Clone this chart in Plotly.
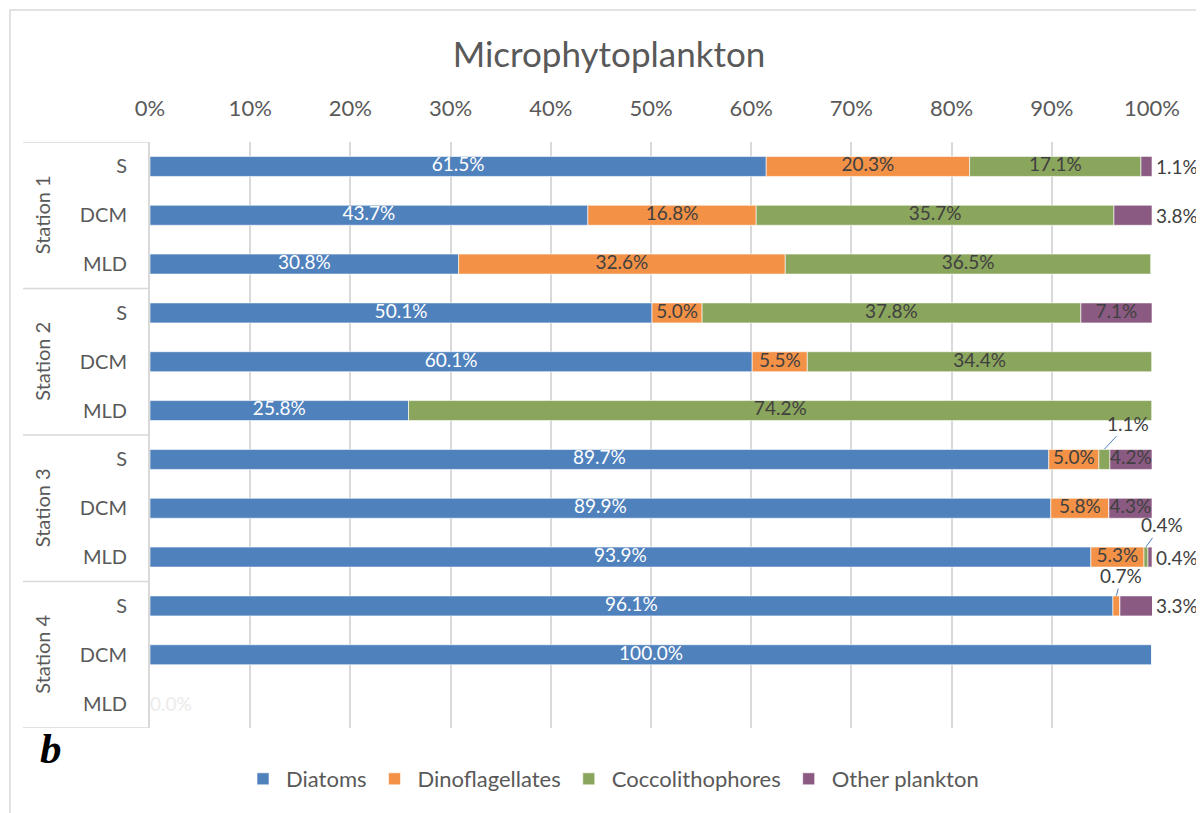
import plotly.graph_objects as go

# categories
stations = ["Station 1", "Station 2", "Station 3", "Station 4"]
depths = ["S", "DCM", "MLD"]

# composition (%) per row: Station 1 S, DCM, MLD, Station 2 S, ...
diatoms = [61.5, 43.7, 30.8, 50.1, 60.1, 25.8, 89.7, 89.9, 93.9, 96.1, 100.0, 0.0]
dinoflagellates = [20.3, 16.8, 32.6, 5.0, 5.5, 0.0, 5.0, 5.8, 5.3, 0.7, 0.0, 0.0]
coccolithophores = [17.1, 35.7, 36.5, 37.8, 34.4, 74.2, 1.1, 0.0, 0.4, 0.0, 0.0, 0.0]
other_plankton = [1.1, 3.8, 0.0, 7.1, 0.0, 0.0, 4.2, 4.3, 0.4, 3.3, 0.0, 0.0]

series_names = ["Diatoms", "Dinoflagellates", "Coccolithophores", "Other plankton"]
series_vals = [diatoms, dinoflagellates, coccolithophores, other_plankton]
colors = ["#4F81BD", "#F39247", "#8AA55C", "#8B5A82"]
label_colors = ["white", "#404040", "#404040", "#404040"]

# labels that Excel moved out of the bar: (row, series) -> where
outside = {(0, 3): "right", (1, 3): "right", (6, 2): "above", (8, 2): "above",
           (8, 3): "right", (9, 1): "above", (9, 3): "right"}
above_offsets = {(6, 2): (24, -26), (8, 2): (16, -22), (9, 1): (5, -20)}

FONT = "Lato"
# the page body has an 8px margin, so the figure is drawn 8px smaller and
# everything below is measured in figure pixels (page pixels minus 8)
W, H = 1196, 805
PL, PR, PT, PB = 142, 1144, 134, 720   # plot area in figure pixels
PW, PH = PR - PL, PB - PT


def px(x):
    return (x - PL) / PW


def py(y):
    return (PB - y) / PH


n_rows = len(stations) * len(depths)
ypos = list(range(n_rows))
ticktext = [depths[i % len(depths)] for i in ypos]

fig = go.Figure()
base = [0.0] * n_rows
annotations = []
for s, (name, vals) in enumerate(zip(series_names, series_vals)):
    fig.add_trace(go.Bar(
        y=ypos, x=vals, base=base, orientation="h", name=name,
        marker=dict(color=colors[s], line=dict(color="rgba(255,255,255,0.6)", width=1)),
        width=0.41, hoverinfo="x+name",
    ))
    mids, texts = [], []
    for r, v in enumerate(vals):
        mid = base[r] + v / 2
        txt = f"{v:.1f}%"
        place = outside.get((r, s))
        mids.append(mid)
        texts.append("" if (v == 0 or place is not None) else txt)
        if place == "right":
            annotations.append(dict(x=100, y=r, xref="x", yref="y", text=txt, showarrow=False,
                                    xanchor="left", xshift=2,
                                    font=dict(family=FONT, size=19, color="#404040")))
        elif place == "above":
            ax, ay = above_offsets[(r, s)]
            annotations.append(dict(x=mid, y=r - 0.21, xref="x", yref="y", text=txt, showarrow=True,
                                    arrowhead=0, arrowwidth=1, arrowcolor="#4F81BD", ax=ax, ay=ay,
                                    font=dict(family=FONT, size=19, color="#404040")))
    fig.add_trace(go.Scatter(
        x=mids, y=ypos, text=texts, mode="text", showlegend=False, hoverinfo="skip",
        textfont=dict(family=FONT, size=19, color=label_colors[s]),
    ))
    base = [b + v for b, v in zip(base, vals)]

# the empty Station 4 MLD row shows a faint 0.0% label
annotations.append(dict(x=0, y=n_rows - 1, xref="x", yref="y", text="0.0%", showarrow=False,
                        xanchor="left", xshift=-2, font=dict(family=FONT, size=19, color="#EBEBEB")))

# station group labels and dividers
shapes = []
g = len(depths)
for i, st in enumerate(stations):
    annotations.append(dict(x=px(34), y=i * g + (g - 1) / 2, xref="paper", yref="y", text=st,
                            showarrow=False, textangle=-90, xanchor="center", yanchor="middle",
                            font=dict(family=FONT, size=20, color="#595959")))
for k in range(len(stations) + 1):
    shapes.append(dict(type="line", xref="paper", yref="y", x0=px(15), x1=px(140),
                       y0=k * g - 0.5, y1=k * g - 0.5, line=dict(color="#D9D9D9", width=1.5)))

# chart border
shapes.append(dict(type="rect", xref="paper", yref="paper", x0=px(2), x1=px(1300),
                   y0=py(900), y1=py(2), line=dict(color="#D9D9D9", width=1.5), layer="below"))

annotations.append(dict(x=px(43), y=py(740), xref="paper", yref="paper", text="<b><i>b</i></b>",
                        showarrow=False, xanchor="center", yanchor="middle",
                        font=dict(family="Liberation Serif", size=43, color="black")))

fig.update_layout(
    barmode="overlay",
    width=W, height=H,
    margin=dict(l=PL, r=W - PR, t=PT, b=H - PB),
    paper_bgcolor="white", plot_bgcolor="white",
    font=dict(family=FONT, color="#595959"),
    title=dict(text="Microphytoplankton", x=601 / W, xanchor="center", y=1 - 47 / H,
               yanchor="middle", font=dict(family=FONT, size=35, color="#595959")),
    xaxis=dict(side="top", range=[0, 100], tickvals=list(range(0, 101, 10)),
               ticktext=[f"{t}%" for t in range(0, 101, 10)], showgrid=True,
               gridcolor="#D9D9D9", gridwidth=2, zeroline=False, showline=False,
               ticklabelstandoff=21, tickfont=dict(size=22, color="#595959")),
    yaxis=dict(range=[n_rows - 0.5, -0.5], tickvals=ypos, ticktext=ticktext, showgrid=False,
               zeroline=False, showline=True, linecolor="#D9D9D9", linewidth=2,
               ticklabelstandoff=17, tickfont=dict(size=20, color="#595959")),
    legend=dict(orientation="h", xref="container", yref="container", x=604 / W, xanchor="center",
                y=1 - 771 / H, yanchor="middle", font=dict(size=22, color="#595959"),
                itemwidth=36, traceorder="normal"),
    annotations=annotations,
    shapes=shapes,
)

fig.write_html("out.html")
